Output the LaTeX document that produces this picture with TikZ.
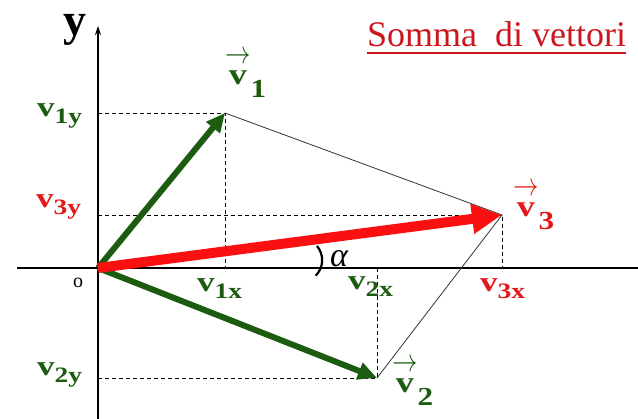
\documentclass[tikz,border=0pt]{standalone}
\usepackage{fontspec}
\setmainfont{Liberation Serif}
\usepackage{amsmath}
\usepackage{tikz}
\usetikzlibrary{arrows.meta, positioning, calc}
\definecolor{vecgreen}{RGB}{28,92,16}
\definecolor{vecred}{RGB}{250,16,16}
\definecolor{lblred}{RGB}{228,24,24}
\definecolor{ttlred}{RGB}{204,22,30}
\newcommand{\compv}[1]{\scalebox{1.25}[1]{\fontsize{28}{28}\selectfont\bfseries v\raisebox{-7pt}{\fontsize{22}{22}\selectfont #1}}}
\newcommand{\vecv}[1]{\scalebox{1.2}[1]{\fontsize{30}{30}\selectfont\bfseries\shortstack{\scalebox{0.85}[1.3]{$\rightarrow$}\\[5pt]v}\raisebox{-13pt}{\fontsize{26}{26}\selectfont #1}}}
\tikzset{
  axis/.style={line width=1.3pt, color=black},
  proj/.style={line width=0.9pt, dash pattern=on 4pt off 3pt, color=black},
  side/.style={line width=0.8pt, color=black!80},
  greenvec/.style={line width=6pt, color=vecgreen,
    -{Triangle[length=19pt,width=17pt]}},
  redvec/.style={line width=10pt, color=vecred,
    -{Triangle[length=30pt,width=28pt]}},
  comp/.style={inner sep=0pt, anchor=base west}
}

\begin{document}
\begin{tikzpicture}[x=1pt, y=1pt]
  \useasboundingbox (0,0) rectangle (638,419);
  % axes
  \coordinate (O) at (98,151);
  \coordinate (xl) at (17,151);
  \coordinate (xr) at (638,151);
  \coordinate (yb) at (98,0);
  \coordinate (yt) at (98,393);
  \draw[axis] (xl) -- (xr);
  \draw[axis, -{Stealth[length=9pt,width=6pt]}] (yb) -- (yt);

  % vector tips
  \coordinate (P1) at (225,306);
  \coordinate (P2) at (377,41);
  \coordinate (P3) at (502,204);

  % projections on the axes
  \draw[proj] (P1 -| O) -- (P1) -- (P1 |- O);
  \draw[proj] (P2 -| O) -- (P2) -- (P2 |- O);
  \draw[proj] (P3 -| O) -- (P3) -- (P3 |- O);

  % parallelogram sides
  \draw[side] (P1) -- (P3) -- (P2);

  \draw[greenvec] (O) -- (P1);
  \draw[greenvec] (O) -- (P2);
  \draw[redvec] (O) -- (P3);

  % angle
  \draw[line width=2.2pt] (317,173) arc[start angle=40, end angle=-45, radius=22];
  \node[comp, font=\fontsize{34}{34}\selectfont\itshape] (alpha) at (330,152) {α};

  \node[comp, vecgreen] (l1y) at (37,302) {\compv{1y}};
  \node[comp, lblred] (l3y) at (36,211) {\compv{3y}};
  \node[comp, vecgreen] (l2y) at (37,43) {\compv{2y}};
  \node[comp, vecgreen] (l1x) at (197,127) {\compv{1x}};
  \node[comp, vecgreen] (l2x) at (348,129) {\compv{2x}};
  \node[comp, lblred] (l3x) at (480,127) {\compv{3x}};
  \node[comp, vecgreen] (lv1) at (225,334) {\vecv{1}};
  \node[comp, vecgreen] (lv2) at (392,26) {\vecv{2}};
  \node[comp, lblred] (lv3) at (513,202) {\vecv{3}};

  \node[comp, font=\fontsize{20}{20}\selectfont] (lo) at (73,131) {o};
  \node[comp, font=\fontsize{46}{46}\selectfont\bfseries] (ly) at (63,383) {y};

  \node[comp, ttlred, font=\fontsize{36}{36}\selectfont] (title) at (367,372) {Somma\ \ di vettori};
  \draw[ttlred, line width=2pt] ([yshift=-6pt]title.base west) -- ([yshift=-6pt]title.base east);
\end{tikzpicture}
\end{document}
